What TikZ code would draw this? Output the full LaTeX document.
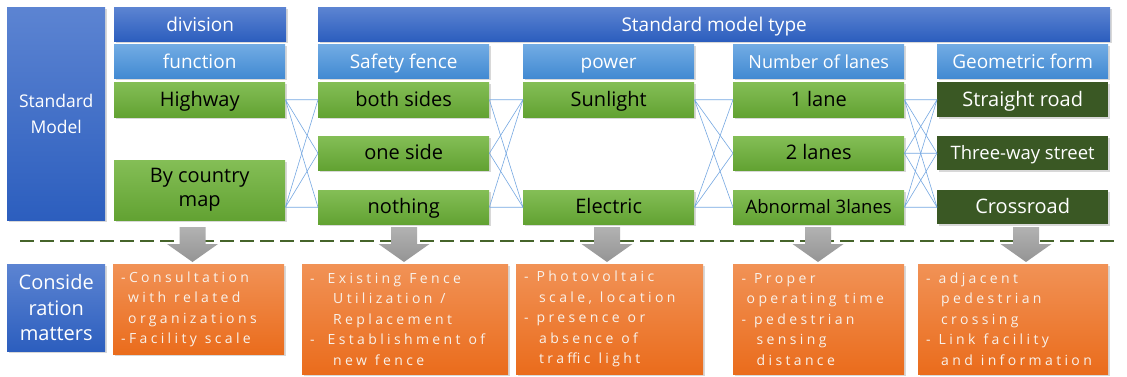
\documentclass[tikz,border=0pt]{standalone}
\usepackage{fontspec}
\setmainfont{Open Sans}
\newfontfamily\spacedfont[LetterSpace=24]{Open Sans}
\newcommand\orangefont{\spacedfont\fontsize{14}{20.5}\selectfont}
\newcommand\wgap{\hspace{8pt}}
\usepackage{tikz}
\usetikzlibrary{shadows}

\begin{document}
\begin{tikzpicture}[x=1pt,y=1pt,yscale=-1,xscale=1,
  box/.style={anchor=north west, inner sep=0pt, minimum width=171, drop shadow={shadow xshift=1.5pt, shadow yshift=-1.5pt, opacity=0.3}},
  darkblue/.style={box, top color={rgb, 255:red, 92; green, 132; blue, 210 }, bottom color={rgb, 255:red, 44; green, 94; blue, 190 }, text=white},
  lightblue/.style={box, top color={rgb, 255:red, 114; green, 172; blue, 228 }, bottom color={rgb, 255:red, 66; green, 138; blue, 210 }, text=white, minimum height=34, text height=16, text depth=2, font=\fontsize{19}{22}\selectfont},
  greenbox/.style={box, top color={rgb, 255:red, 132; green, 190; blue, 86 }, bottom color={rgb, 255:red, 98; green, 162; blue, 50 }, text=black, minimum height=34, text height=16, text depth=3, font=\fontsize{20}{24}\selectfont},
  darkgreen/.style={box, fill={rgb, 255:red, 58; green, 88; blue, 36 }, text=white, minimum height=34, text height=16, text depth=3, font=\fontsize{20}{24}\selectfont},
  orangebox/.style={box, top color={rgb, 255:red, 241; green, 146; blue, 86 }, bottom color={rgb, 255:red, 234; green, 108; blue, 28 }, text={rgb, 255:red, 248; green, 241; blue, 234 }, align=left, inner xsep=8pt, font=\orangefont},
  link/.style={color={rgb, 255:red, 118; green, 168; blue, 226 }, line width=0.6pt},
  downarrow/.style={top color={rgb, 255:red, 178; green, 178; blue, 178 }, bottom color={rgb, 255:red, 148; green, 148; blue, 148 }, draw=none}
]
\useasboundingbox (0,0) rectangle (1127,376);
\fill [white] (0,0) rectangle (1127,376);

%Shape: Dashed Line
\draw [color={rgb, 255:red, 70; green, 100; blue, 42 }, line width=2pt, dash pattern=on 14pt off 6pt] (20,240.5) -- (1116,240.5);

% Text Node
\node [darkblue, minimum width=98, minimum height=213, align=center, font=\fontsize{17.5}{26}\selectfont] (sm) at (7,7) {Standard\\Model};
% Text Node
\node [darkblue, minimum width=172, minimum height=34, text height=16, text depth=2, font=\fontsize{19}{22}\selectfont] (dv) at (114,7) {division};
% Text Node
\node [darkblue, minimum width=792, minimum height=34, text height=16, text depth=2, font=\fontsize{19}{22}\selectfont] (smt) at (318,7) {Standard model type};

% Text Node
\node [lightblue] (fn) at (114,44) {function};
% Text Node
\node [lightblue] (sf) at (318,44) {Safety fence};
% Text Node
\node [lightblue] (pw) at (523,44) {power};
% Text Node
\node [lightblue, font=\fontsize{18}{22}\selectfont] (nl) at (733,44) {Number of lanes};
% Text Node
\node [lightblue] (gf) at (937,44) {Geometric form};

% Text Node
\node [greenbox, minimum height=35] (hw) at (114,82) {Highway};
% Text Node
\node [greenbox, minimum height=60, text height={}, text depth={}, align=center, font=\fontsize{20}{24}\selectfont] (bc) at (114,160) {By country\\map};
% Text Node
\node [greenbox, minimum height=35] (bs) at (318,82) {both sides};
% Text Node
\node [greenbox] (os) at (318,136) {one side};
% Text Node
\node [greenbox] (nt) at (318,190) {nothing};
% Text Node
\node [greenbox, minimum height=35] (sl) at (523,82) {Sunlight};
% Text Node
\node [greenbox] (el) at (523,190) {Electric};
% Text Node
\node [greenbox, minimum height=35] (l1) at (733,82) {1 lane};
% Text Node
\node [greenbox] (l2) at (733,136) {2 lanes};
% Text Node
\node [greenbox, font=\fontsize{18.5}{22}\selectfont] (l3) at (733,190) {Abnormal 3lanes};
% Text Node
\node [darkgreen, minimum height=35] (sr) at (937,82) {Straight road};
% Text Node
\node [darkgreen, font=\fontsize{18.5}{22}\selectfont] (tw) at (937,136) {Three-way street};
% Text Node
\node [darkgreen] (cr) at (937,190) {Crossroad};

%Straight Lines
\draw [link] (hw.east) -- (bs.west) (hw.east) -- (os.west) (hw.east) -- (nt.west);
\draw [link] (bc.east |- nt.east) -- (bs.west) (bc.east |- nt.east) -- (os.west) (bc.east |- nt.east) -- (nt.west);
%Straight Lines
\draw [link] (bs.east) -- (sl.west) (bs.east) -- (el.west);
\draw [link] (os.east) -- (sl.west) (os.east) -- (el.west);
\draw [link] (nt.east) -- (sl.west) (nt.east) -- (el.west);
%Straight Lines
\draw [link] (sl.east) -- (l1.west) (sl.east) -- (l2.west) (sl.east) -- (l3.west);
\draw [link] (el.east) -- (l1.west) (el.east) -- (l2.west) (el.east) -- (l3.west);
%Straight Lines
\draw [link] (l1.east) -- (sr.west) (l1.east) -- (tw.west) (l1.east) -- (cr.west);
\draw [link] (l2.east) -- (sr.west) (l2.east) -- (tw.west) (l2.east) -- (cr.west);
\draw [link] (l3.east) -- (sr.west) (l3.east) -- (tw.west) (l3.east) -- (cr.west);

%Shape: Down Arrow
\draw [downarrow] (179.5,227) -- (205.5,227) -- (205.5,244) -- (218,244) -- (192.5,262) -- (167,244) -- (179.5,244) -- cycle ;
%Shape: Down Arrow
\draw [downarrow] (391,227) -- (417,227) -- (417,244) -- (429.5,244) -- (404,262) -- (378.5,244) -- (391,244) -- cycle ;
%Shape: Down Arrow
\draw [downarrow] (594,227) -- (620,227) -- (620,244) -- (632.5,244) -- (607,262) -- (581.5,244) -- (594,244) -- cycle ;
%Shape: Down Arrow
\draw [downarrow] (805,227) -- (831,227) -- (831,244) -- (843.5,244) -- (818,262) -- (792.5,244) -- (805,244) -- cycle ;
%Shape: Down Arrow
\draw [downarrow] (1013,227) -- (1039,227) -- (1039,244) -- (1051.5,244) -- (1026,262) -- (1000.5,244) -- (1013,244) -- cycle ;

% Text Node
\node [darkblue, minimum width=98, minimum height=87, align=center, font=\fontsize{20}{25.5}\selectfont] (cm) at (7,264) {Conside\\ration\\matters};
% Text Node
\node [orangebox, minimum height=90, text width=155] (cs) at (113,264) {-Consultation\\\hspace*{7pt}with\wgap related\\\hspace*{7pt}organizations\\-Facility\wgap scale};
% Text Node
\node [orangebox, minimum height=110, text width=190] (fe) at (302,264) {-\hspace{13pt}Existing\wgap Fence\\\hspace*{23pt}Utilization\wgap /\\\hspace*{23pt}Replacement\\-\hspace{13pt}Establishment\wgap of\\\hspace*{23pt}new\wgap fence};
% Text Node
\node [orangebox, minimum height=110, text width=171] (pv) at (516,264) {-\wgap Photovoltaic\\\hspace*{15pt}scale,\wgap location\\-\wgap presence\wgap or\\\hspace*{15pt}absence\wgap of\\\hspace*{15pt}traffic\wgap light};
% Text Node
\node [orangebox, minimum height=110, text width=154] (ot) at (733,264) {-\wgap Proper\\\hspace*{5pt}operating\wgap time\\-\wgap pedestrian\\\hspace*{15pt}sensing\\\hspace*{15pt}distance};
% Text Node
\node [orangebox, minimum height=110, text width=174] (ad) at (918,264) {-\wgap adjacent\\\hspace*{15pt}pedestrian\\\hspace*{15pt}crossing\\-\wgap Link\wgap facility\\\hspace*{15pt}and\wgap information};
\end{tikzpicture}
\end{document}
